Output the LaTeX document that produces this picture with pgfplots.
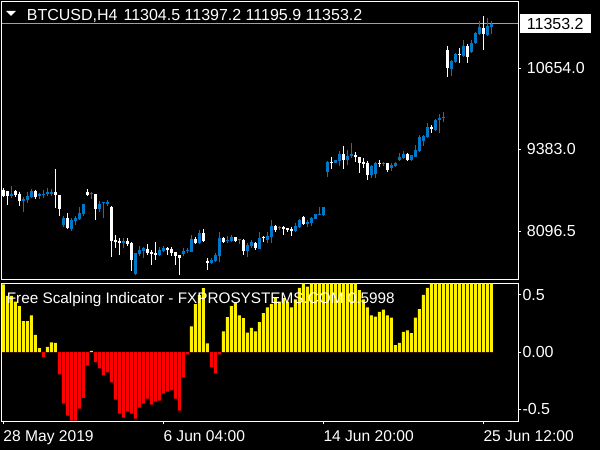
\documentclass[border=0pt]{standalone}
\usepackage{pgfplots}
\pgfplotsset{compat=1.18}
\usepackage{pgfplotstable}
\usepackage{fontspec}
\setmainfont{Liberation Sans}

\definecolor{mtblue}{RGB}{0,120,200}
\definecolor{pricegray}{RGB}{160,160,160}

% BTCUSD H4 candles, bar index k (0 = 28 May 2019)
\pgfplotstableread{
k o h l c
2 8656 8807 8614 8687
5 8577 8640 8405 8609
6 8588 8708 8535 8650
7 8635 8760 8624 8729
9 8656 8703 8609 8687
10 8671 8745 8614 8687
11 8682 8771 8650 8713
12 8682 8760 8656 8713
15 8195 8342 8169 8305
17 8133 8300 8101 8274
18 8258 8337 8190 8305
19 8289 8478 8274 8384
20 8368 8525 8337 8525
22 8682 8713 8609 8697
24 8446 8577 8405 8525
25 8535 8556 8305 8556
26 8530 8588 8493 8556
30 7913 7991 7834 7944
33 7427 7756 7411 7756
34 7740 7866 7709 7803
35 7787 7850 7678 7834
39 7725 7850 7709 7803
40 7787 7866 7772 7834
45 7740 7834 7709 7787
46 7787 7834 7756 7803
47 7772 8039 7772 7976
49 7913 8117 7897 8070
52 7599 7678 7583 7646
53 7631 7756 7615 7725
54 7709 8086 7615 7991
56 7944 8023 7913 7960
57 7944 8039 7929 8007
59 7960 7976 7897 7976
61 7787 7913 7693 7882
62 7866 7960 7834 7929
64 7819 8086 7819 7991
66 7960 8086 7913 8023
67 8007 8274 7913 8180
69 8148 8180 8117 8164
73 8101 8227 8086 8180
74 8164 8289 8148 8274
76 8211 8274 8164 8242
77 8227 8321 8180 8305
78 8289 8368 8289 8368
79 8352 8478 8352 8368
80 8352 8478 8337 8478
81 9032 9205 8954 9189
83 9173 9215 9163 9215
84 9205 9362 9126 9309
86 9215 9372 9137 9278
87 9278 9477 9241 9309
92 8980 9137 8928 9121
93 8996 9189 8928 9173
95 9152 9189 9126 9173
97 9084 9173 9048 9137
98 9121 9189 9100 9173
99 9215 9330 9205 9267
100 9247 9356 9231 9309
102 9215 9294 9205 9294
103 9267 9451 9257 9372
104 9362 9607 9346 9571
105 9518 9607 9440 9592
106 9571 9801 9555 9738
108 9686 9858 9670 9843
109 9843 9937 9633 9869
110 9869 9968 9817 9895
112 10643 10784 10533 10769
113 10753 10899 10732 10878
115 10847 11098 10826 11004
117 10904 11098 10889 11056
118 11046 11224 11035 11203
119 11187 11401 11176 11297
121 11176 11438 11161 11318
122 11304.5 11397.2 11195.9 11353.2
}\upcandles

\pgfplotstableread{
k o h l c
0 8745 8771 8640 8656
1 8729 8729 8509 8656
3 8729 8745 8640 8666
4 8687 8718 8499 8577
8 8729 8745 8609 8635
13 8713 9074 8467 8671
14 8666 8666 8337 8446
16 8305 8384 8133 8148
21 8713 8760 8650 8666
23 8682 8682 8274 8446
27 8478 8493 7693 7944
28 7960 8039 7834 7929
29 7944 7991 7725 7913
31 7944 7991 7866 7897
32 7913 7929 7479 7646
36 7819 7897 7725 7756
37 7772 7803 7568 7740
38 7756 7929 7646 7725
41 7834 7850 7725 7803
42 7819 7850 7709 7756
43 7772 7772 7568 7709
44 7725 7725 7411 7678
48 7976 8007 7897 7913
50 8070 8133 7929 7944
51 7631 7678 7489 7599
55 7991 8007 7913 7929
58 8007 8007 7929 7944
60 7960 7976 7725 7787
63 7913 7929 7803 7834
65 8007 8023 7929 7991
68 8180 8195 8086 8117
70 8164 8180 8039 8133
71 8148 8148 8086 8117
72 8133 8164 8023 8101
75 8321 8337 8195 8211
82 9189 9267 9069 9173
85 9309 9440 9079 9215
88 9294 9335 9189 9257
89 9257 9267 9016 9173
90 9189 9241 9084 9152
91 9173 9205 8901 8980
94 9163 9215 9111 9147
96 9163 9173 9032 9058
101 9309 9330 9205 9215
107 9738 9759 9633 9707
111 10941 11009 10512 10654
114 10878 10967 10732 10863
116 11004 11035 10742 10826
120 11281 11475 10941 11187
}\downcandles

% Free Scalping Indicator histogram
\pgfplotstableread{
k v
0 0.59
1 0.49
2 0.49
3 0.44
4 0.40
5 0.27
6 0.27
7 0.32
8 0.15
9 0.035
10 -0.044
11 0.044
12 0.085
13 0.079
14 -0.196
15 -0.45
16 -0.556
17 -0.6
18 -0.6
19 -0.494
20 -0.40
21 -0.117
22 0.01
23 -0.088
24 -0.143
25 -0.205
26 -0.178
27 -0.266
28 -0.415
29 -0.538
30 -0.573
31 -0.52
32 -0.538
33 -0.582
34 -0.485
35 -0.45
36 -0.406
37 -0.46
38 -0.433
39 -0.424
40 -0.363
41 -0.345
42 -0.336
43 -0.406
44 -0.512
45 -0.222
46 -0.02
47 0.225
48 0.418
49 0.497
50 0.558
51 0.076
52 -0.134
53 -0.187
54 -0.02
55 0.18
56 0.304
57 0.40
58 0.427
59 0.32
60 0.295
61 0.17
62 0.21
63 0.18
64 0.26
65 0.34
66 0.39
67 0.42
68 0.47
69 0.44
70 0.47
71 0.44
72 0.39
73 0.46
74 0.56
75 0.6
76 0.57
77 0.6
78 0.6
79 0.6
80 0.6
81 0.6
82 0.6
83 0.6
84 0.6
85 0.6
86 0.6
87 0.6
88 0.6
89 0.54
90 0.46
91 0.39
92 0.32
93 0.31
94 0.35
95 0.37
96 0.32
97 0.30
98 0.06
99 0.08
100 0.175
101 0.19
102 0.166
103 0.30
104 0.375
105 0.50
106 0.56
107 0.6
108 0.6
109 0.6
110 0.6
111 0.6
112 0.6
113 0.6
114 0.6
115 0.6
116 0.6
117 0.6
118 0.6
119 0.6
120 0.6
121 0.6
122 0.6
}\histo

\pgfplotsset{
  mtpanel/.style={
    scale only axis, anchor=south west, width=516.6bp,
    xmin=-0.4, xmax=128.75,
    axis line style={white, line width=1bp},
    tick align=outside, major tick length=3bp,
    tick style={white, line width=1bp},
    ytick pos=right, yticklabel pos=right,
    tick label style={text=white, inner sep=0pt, font=\fontsize{16bp}{19bp}\selectfont},
    yticklabel style={anchor=west},
    scaled ticks=false,
    clip mode=individual,
  },
  wick/.style={forget plot, draw=none, mark=none,
    error bars/.cd, y dir=minus, y explicit, error mark=none,
    error bar style={draw=#1, line width=1bp}},
  body/.style={forget plot, draw=none, mark=none,
    error bars/.cd, y dir=minus, y explicit, error mark=none,
    error bar style={draw=#1, line width=3bp, line cap=butt}},
}

\begin{document}
\begin{tikzpicture}
\fill[black] (0bp,0bp) rectangle (600bp,450bp);

\begin{axis}[mtpanel, at={(1.7bp,170bp)}, height=278.3bp,
    ymin=7332.4, ymax=11698.9,
    xtick=\empty,
    ytick={8096.5,9383,10654}, yticklabels={8096.5,9383.0,10654.0},
    yticklabel style={xshift=5.4bp}]
  \addplot[pricegray, line width=1bp, forget plot] coordinates {(-0.4,11353.2) (128.75,11353.2)};
  \addplot[wick=mtblue] table[x=k, y=h, y error minus expr=\thisrow{h}-\thisrow{l}] {\upcandles};
  \addplot[body=mtblue] table[x=k, y=c, y error minus expr=\thisrow{c}-\thisrow{o}] {\upcandles};
  \addplot[wick=white] table[x=k, y=h, y error minus expr=\thisrow{h}-\thisrow{l}] {\downcandles};
  \addplot[body=white] table[x=k, y=o, y error minus expr=\thisrow{o}-\thisrow{c}] {\downcandles};
\end{axis}

\begin{axis}[mtpanel, at={(1.7bp,28.7bp)}, height=138bp,
    ymin=-0.605, ymax=0.6,
    ytick={-0.5,0,0.5}, yticklabels={-0.5,0.00,0.5},
    yticklabel style={xshift=1bp},
    xtick={0,40,80,120},
    xticklabels={28 May 2019, 6 Jun 04:00, 14 Jun 20:00, 25 Jun 12:00},
    xtick pos=bottom,
    xticklabel style={anchor=north west, yshift=-5.7bp, font=\fontsize{15.6bp}{18bp}\selectfont}]
  \addplot[ybar, bar width=3bp, bar shift=0pt, fill=yellow, draw=none]
    table[x=k, y expr={max(\thisrow{v},0)}] {\histo};
  \addplot[ybar, bar width=3bp, bar shift=0pt, fill=red, draw=none]
    table[x=k, y expr={min(\thisrow{v},0)}] {\histo};
\end{axis}

% chart captions
\fill[white] (6bp,439bp) -- (16bp,439bp) -- (11bp,434bp) -- cycle;
\node[anchor=base west, inner sep=0pt, text=white, font=\fontsize{16bp}{19bp}\selectfont]
  at (26.7bp,429.3bp) {BTCUSD,H4\hspace{6bp}11304.5 11397.2 11195.9 11353.2};
\fill[white] (520bp,417.3bp) rectangle (590.7bp,436bp);
\node[anchor=base west, inner sep=0pt, text=black, font=\fontsize{16bp}{19bp}\selectfont]
  at (526.7bp,420.7bp) {11353.2};
\node[anchor=base west, inner sep=0pt, text=white, font=\fontsize{15.3bp}{18bp}\selectfont]
  at (6.7bp,146.7bp) {Free Scalping Indicator - FXPROSYSTEMS.COM 0.5998};

\pgfresetboundingbox
\useasboundingbox (0bp,0bp) rectangle (600bp,450bp);
\end{tikzpicture}
\end{document}
